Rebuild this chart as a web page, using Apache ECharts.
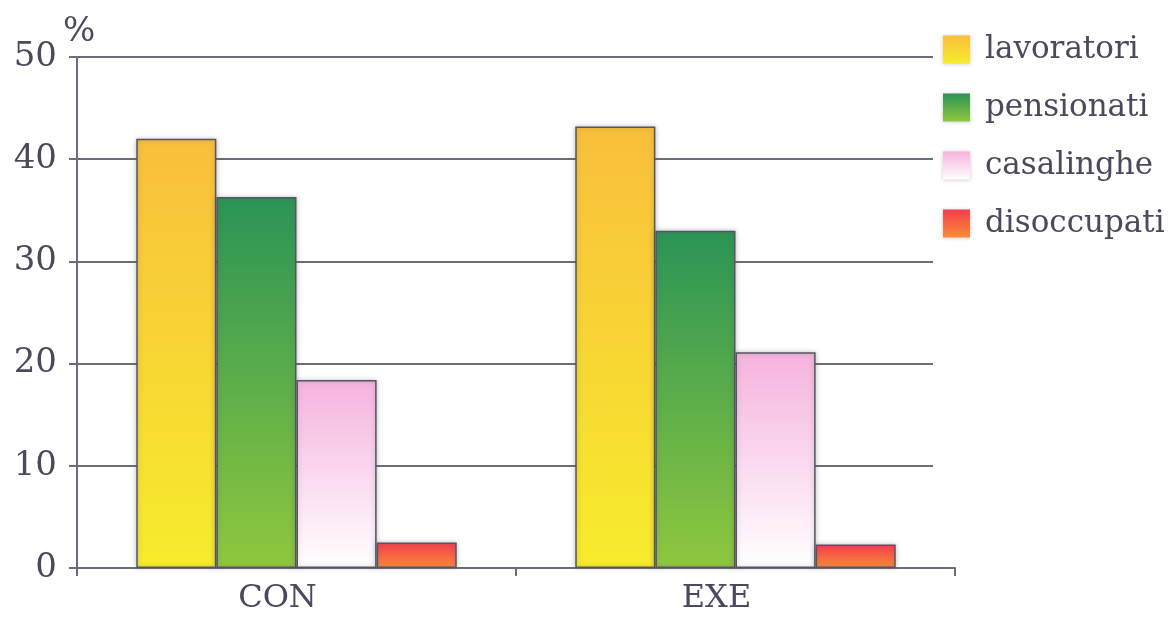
<!DOCTYPE html>
<html>
<head>
<meta charset="utf-8">
<style>
  html, body { margin: 0; padding: 0; background: #ffffff; }
  #chart { width: 1169px; height: 634px; }
</style>
<script src="https://cdn.jsdelivr.net/npm/echarts@6/dist/echarts.min.js"></script>
</head>
<body>
<div id="chart"></div>
<script>
// Categories and values (%)
const categories = ['CON', 'EXE'];
const seriesNames = ['lavoratori', 'pensionati', 'casalinghe', 'disoccupati'];
const lavoratori = [42.0, 43.2];
const pensionati = [36.3, 33.0];
const casalinghe = [18.4, 21.1];
const disoccupati = [2.5, 2.3];
const yTicks = [0, 10, 20, 30, 40, 50];

// vertical gradients: top colour -> bottom colour
const fills = [
  ['#f9bf3c', '#f7ec2c'],
  ['#2a9456', '#90c83e'],
  ['#f6b2de', '#ffffff'],
  ['#f43e4c', '#f98c38']
];
const values = [lavoratori, pensionati, casalinghe, disoccupati];

const ink = '#4a4a5c';
const lineCol = '#6c6c7a';
const font = '"DejaVu Serif", "Liberation Serif", serif';

function grad(pair) {
  return new echarts.graphic.LinearGradient(0, 0, 0, 1, [
    { offset: 0, color: pair[0] },
    { offset: 1, color: pair[1] }
  ]);
}

const chart = echarts.init(document.getElementById('chart'), null, { renderer: 'canvas' });

chart.setOption({
  backgroundColor: '#ffffff',
  animation: false,
  legend: {
    orient: 'vertical',
    left: 938,
    top: 29,
    icon: 'rect',
    itemWidth: 27,
    itemHeight: 28,
    itemGap: 27,
    data: seriesNames,
    itemStyle: { borderWidth: 0, shadowBlur: 4, shadowColor: 'rgba(80,80,100,0.3)' },
    textStyle: { fontFamily: font, fontSize: 31, color: ink, padding: [0, 0, 0, 10] }
  },
  grid: [
    { left: 77, right: 214, top: 57, bottom: 66 },
    { left: 77, right: 236, top: 57, bottom: 66 }
  ],
  xAxis: [
    {
      type: 'category',
      gridIndex: 0,
      data: categories,
      axisLine: { lineStyle: { color: lineCol, width: 2 } },
      axisTick: { show: true, length: 8, lineStyle: { color: lineCol, width: 2 } },
      axisLabel: { fontFamily: font, fontSize: 32, color: ink, margin: 15, padding: [0, 38, 0, 0] }
    },
    { type: 'category', gridIndex: 1, data: categories, show: false }
  ],
  yAxis: [
    {
      type: 'value',
      gridIndex: 0,
      min: yTicks[0],
      max: yTicks[yTicks.length - 1],
      interval: 10,
      name: '%',
      nameLocation: 'end',
      nameGap: 8,
      nameTextStyle: { fontFamily: font, fontSize: 34, color: ink, align: 'left', padding: [0, 0, 0, -14] },
      axisLine: { show: true, lineStyle: { color: lineCol, width: 2 } },
      axisTick: { show: true, length: 8, lineStyle: { color: lineCol, width: 2 } },
      axisLabel: { fontFamily: font, fontSize: 34, color: ink, margin: 20 },
      splitLine: { show: false }
    },
    {
      type: 'value',
      gridIndex: 1,
      min: yTicks[0],
      max: yTicks[yTicks.length - 1],
      interval: 10,
      axisLine: { show: false },
      axisTick: { show: false },
      axisLabel: { show: false },
      splitLine: { show: true, lineStyle: { color: lineCol, width: 2 } }
    }
  ],
  series: seriesNames.map((name, i) => ({
    name: name,
    type: 'bar',
    xAxisIndex: 0,
    yAxisIndex: 0,
    data: values[i],
    barGap: '0%',
    barCategoryGap: '27%',
    z: 3,
    itemStyle: {
      color: grad(fills[i]),
      borderColor: '#55555f',
      borderWidth: 1.5,
      shadowBlur: 5,
      shadowColor: 'rgba(80,80,100,0.35)'
    }
  }))
});
</script>
</body>
</html>
